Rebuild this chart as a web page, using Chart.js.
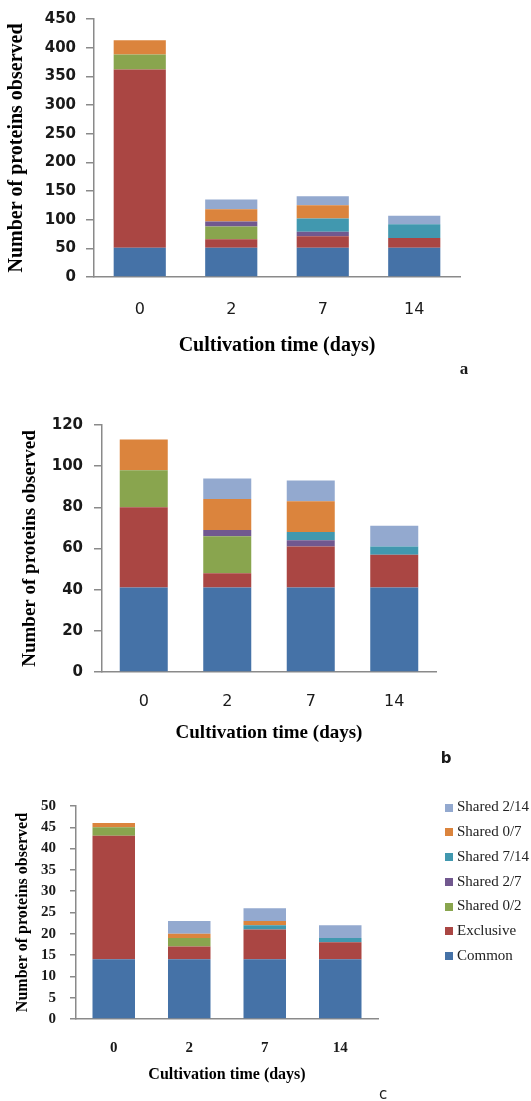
<!DOCTYPE html>
<html>
<head>
<meta charset="utf-8">
<script src="https://cdn.jsdelivr.net/npm/chart.js@4"></script>
<style>
  html, body { margin: 0; padding: 0; background: #fff; }
  #wrap { position: relative; width: 531px; height: 1101px; overflow: hidden; background: #fff; }
  canvas { position: absolute; left: 0; }
</style>
</head>
<body>
<div id="wrap">
  <canvas id="chartA" width="531" height="385" style="top:0px"></canvas>
  <canvas id="chartB" width="531" height="395" style="top:385px"></canvas>
  <canvas id="chartC" width="531" height="321" style="top:780px"></canvas>
</div>
<script>
// Cultivation days on the x axis
const days = ['0', '2', '7', '14'];

// Series, stacked bottom to top
const seriesNames = ['Common', 'Exclusive', 'Shared 0/2', 'Shared 2/7', 'Shared 7/14', 'Shared 0/7', 'Shared 2/14'];
const seriesColors = ['#4572A7', '#AA4643', '#89A54E', '#71588F', '#4198AF', '#DB843D', '#93A9CF'];

// Panel a
const commonA     = [51, 51, 51, 51];
const exclusiveA  = [311, 15, 20, 17];
const shared02A   = [26, 22, 0, 0];
const shared27A   = [0, 9, 8, 0];
const shared714A  = [0, 0, 23, 24];
const shared07A   = [25, 21, 23, 0];
const shared214A  = [0, 17, 16, 15];
const yTicksA = { min: 0, max: 450, step: 50 };

// Panel b
const commonB     = [41, 41, 41, 41];
const exclusiveB  = [39, 7, 20, 16];
const shared02B   = [18, 18, 0, 0];
const shared27B   = [0, 3, 3, 0];
const shared714B  = [0, 0, 4, 4];
const shared07B   = [15, 15, 15, 0];
const shared214B  = [0, 10, 10, 10];
const yTicksB = { min: 0, max: 120, step: 20 };

// Panel c
const commonC     = [14, 14, 14, 14];
const exclusiveC  = [29, 3, 7, 4];
const shared02C   = [2, 2, 0, 0];
const shared27C   = [0, 0, 0, 0];
const shared714C  = [0, 0, 1, 1];
const shared07C   = [1, 1, 1, 0];
const shared214C  = [0, 3, 3, 3];
const yTicksC = { min: 0, max: 50, step: 5 };

const yTitle = 'Number of proteins observed';
const xTitle = 'Cultivation time (days)';

const AXIS = '#8a8a8a';
const INK = '#1a1a1a';

// Small letter under each panel
const panelLetter = {
  id: 'panelLetter',
  afterDraw(chart, args, o) {
    if (!o || !o.text) return;
    const ctx = chart.ctx;
    ctx.save();
    ctx.font = o.font;
    ctx.fillStyle = INK;
    ctx.textAlign = 'center';
    ctx.textBaseline = 'middle';
    ctx.fillText(o.text, o.x, o.y);
    ctx.restore();
  }
};

// Legend listed top series first, beside the plot
const sideLegend = {
  id: 'sideLegend',
  afterDraw(chart, args, o) {
    if (!o || !o.show) return;
    const ctx = chart.ctx;
    ctx.save();
    ctx.font = o.font;
    ctx.textAlign = 'left';
    ctx.textBaseline = 'middle';
    chart.data.datasets.slice().reverse().forEach((d, i) => {
      const y = o.top + i * o.spacing;
      ctx.fillStyle = d.backgroundColor;
      ctx.fillRect(o.left, Math.round(y - o.box / 2), o.box, o.box);
      ctx.fillStyle = o.color;
      ctx.fillText(d.label, o.left + o.box + o.gap, y);
    });
    ctx.restore();
  }
};

function buildDatasets(seriesValues, barPct) {
  return seriesValues.map((vals, i) => ({
    label: seriesNames[i],
    data: vals,
    backgroundColor: seriesColors[i],
    borderWidth: 0,
    barPercentage: barPct,
    categoryPercentage: 1.0
  }));
}

function makePanel(id, seriesValues, yt, g) {
  return new Chart(document.getElementById(id), {
    type: 'bar',
    data: { labels: days, datasets: buildDatasets(seriesValues, g.barPct) },
    plugins: [panelLetter, sideLegend],
    options: {
      responsive: false,
      animation: false,
      devicePixelRatio: 1,
      layout: { padding: g.pad },
      plugins: {
        legend: { display: false },
        tooltip: { enabled: false },
        panelLetter: g.letter,
        sideLegend: g.legend || { show: false }
      },
      scales: {
        x: {
          stacked: true,
          afterFit: s => { s.height = g.xHeight; },
          grid: { display: false, drawTicks: false },
          border: { display: true, color: AXIS, width: 1.5 },
          ticks: { color: INK, font: g.xTickFont, padding: g.xTickPad, maxRotation: 0 },
          title: { display: true, text: xTitle, color: '#000', font: g.titleFontX, padding: { top: 0, bottom: 0 } }
        },
        y: {
          stacked: true,
          min: yt.min, max: yt.max,
          afterFit: s => { s.width = g.yWidth; },
          grid: { display: true, drawOnChartArea: false, drawTicks: true, tickLength: g.tickLen, color: AXIS, lineWidth: 1.5 },
          border: { display: true, color: AXIS, width: 1.5 },
          ticks: { stepSize: yt.step, color: INK, font: g.yTickFont, padding: g.yTickPad },
          title: { display: true, text: yTitle, color: '#000', font: g.titleFontY, padding: { top: g.yTitlePad, bottom: 0 } }
        }
      }
    }
  });
}

makePanel('chartA',
  [commonA, exclusiveA, shared02A, shared27A, shared714A, shared07A, shared214A],
  yTicksA, {
    barPct: 0.57,
    pad: { left: 0, top: 14, right: 71, bottom: 27 },
    yWidth: 94, xHeight: 81, tickLen: 8,
    yTickFont: { family: 'DejaVu Sans', weight: 'bold', size: 15 },
    yTickPad: 10,
    xTickFont: { family: 'DejaVu Sans', size: 16 },
    xTickPad: 23,
    titleFontY: { family: 'Liberation Serif', weight: 'bold', size: 20 },
    titleFontX: { family: 'Liberation Serif', weight: 'bold', size: 20 },
    yTitlePad: 5,
    letter: { text: 'a', x: 464, y: 370, font: 'bold 17px "Liberation Serif"' }
  });

makePanel('chartB',
  [commonB, exclusiveB, shared02B, shared27B, shared714B, shared07B, shared214B],
  yTicksB, {
    barPct: 0.575,
    pad: { left: 0, top: 40, right: 95, bottom: 36 },
    yWidth: 102, xHeight: 72, tickLen: 8,
    yTickFont: { family: 'DejaVu Sans', weight: 'bold', size: 15 },
    yTickPad: 11,
    xTickFont: { family: 'DejaVu Sans', size: 16 },
    xTickPad: 20,
    titleFontY: { family: 'Liberation Serif', weight: 'bold', size: 19 },
    titleFontX: { family: 'Liberation Serif', weight: 'bold', size: 19 },
    yTitlePad: 19,
    letter: { text: 'b', x: 446, y: 374, font: 'bold 15px "DejaVu Sans"' }
  });

makePanel('chartC',
  [commonC, exclusiveC, shared02C, shared27C, shared714C, shared07C, shared214C],
  yTicksC, {
    barPct: 0.563,
    pad: { left: 0, top: 26, right: 153, bottom: 17 },
    yWidth: 76, xHeight: 65, tickLen: 6,
    yTickFont: { family: 'Liberation Serif', weight: 'bold', size: 15 },
    yTickPad: 14,
    xTickFont: { family: 'Liberation Serif', weight: 'bold', size: 15 },
    xTickPad: 20,
    titleFontY: { family: 'Liberation Serif', weight: 'bold', size: 16 },
    titleFontX: { family: 'Liberation Serif', weight: 'bold', size: 16 },
    yTitlePad: 13,
    letter: { text: 'c', x: 383, y: 315, font: '15px "DejaVu Sans"' },
    legend: { show: true, left: 445, top: 27.5, spacing: 24.75, box: 8, gap: 4,
              font: '15px "Liberation Serif"', color: '#222' }
  });
</script>
</body>
</html>
